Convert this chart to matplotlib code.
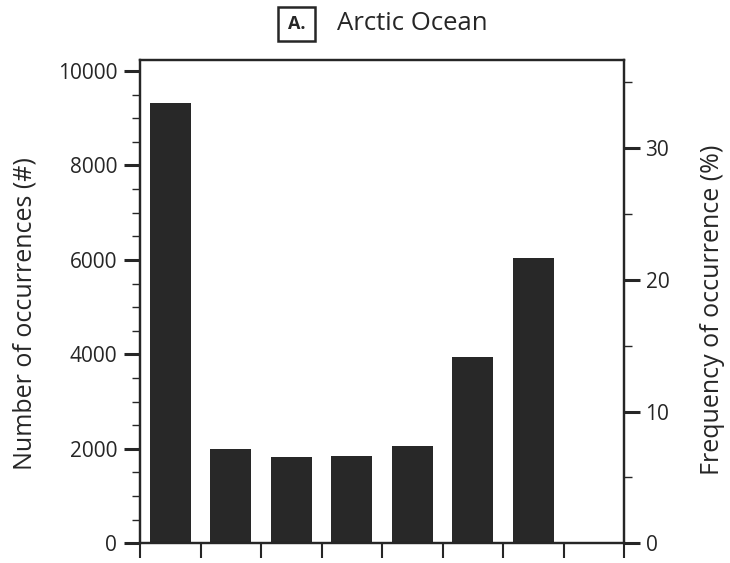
import matplotlib
matplotlib.use("Agg")
import matplotlib.pyplot as plt
from matplotlib.ticker import MultipleLocator
from matplotlib.patches import Rectangle
import numpy as np

# Data
bins = [0, 1, 2, 3, 4, 5, 6]          # bin index (8 slots, last empty)
counts = [9316, 1990, 1827, 1848, 2060, 3938, 6034]
left_ticks = [0, 2000, 4000, 6000, 8000, 10000]
right_ticks = [0, 10, 20, 30]
title = "Arctic Ocean"
panel = "A."

plt.rcParams['font.family'] = ['Open Sans', 'DejaVu Sans']
INK = '#262626'

fig = plt.figure(figsize=(7.3, 5.63), dpi=100)
ax = fig.add_axes([140/730, 1-543.3/563, (624-140)/730, (543.3-60)/563])

x = np.array(bins) + 0.5
ax.bar(x, counts, width=0.68, color='#282828', edgecolor='none')
ax.set_xlim(0, 8)
ax.set_ylim(0, 10233)
ax.set_xticks(np.arange(0, 9))
ax.set_xticklabels([])
ax.set_yticks(left_ticks)
ax.yaxis.set_minor_locator(MultipleLocator(500))

for s in ax.spines.values():
    s.set_linewidth(1.6)
    s.set_color(INK)

ax.tick_params(axis='x', direction='out', length=11, width=1.5, color=INK)
ax.tick_params(axis='y', which='major', direction='out', length=11.5, width=2.2,
               color=INK, labelsize=15, labelcolor=INK, pad=5)
ax.tick_params(axis='y', which='minor', direction='out', length=5.5, width=1.0, color=INK)
ax.set_ylabel("Number of occurrences (#)", fontsize=18, color=INK)
ax.yaxis.set_label_coords(-0.212, 0.475)

ax2 = ax.twinx()
ax2.set_ylim(0, 36.67)
ax2.set_yticks(right_ticks)
ax2.yaxis.set_minor_locator(MultipleLocator(5))
ax2.tick_params(axis='y', which='major', direction='out', length=11.5, width=2.2,
                color=INK, labelsize=15, labelcolor=INK, pad=4)
ax2.tick_params(axis='y', which='minor', direction='out', length=5.5, width=1.0, color=INK)
for s in ax2.spines.values():
    s.set_linewidth(1.6)
    s.set_color(INK)
ax2.set_ylabel("Frequency of occurrence (%)", fontsize=18, color=INK)
ax2.yaxis.set_label_coords(1.158, 0.483)

# Panel box and title
fig.add_artist(Rectangle((278/730, 1-41/563), 37/730, 34/563, transform=fig.transFigure,
                         fill=False, ec=INK, lw=1.8))
fig.text(296.5/730, 1-24/563, panel, fontsize=13, fontweight='bold', color=INK,
         ha='center', va='center')
fig.text(337/730, 1-23/563, title, fontsize=18.5, color=INK, ha='left', va='center')

fig.savefig("out.png", dpi=100)
